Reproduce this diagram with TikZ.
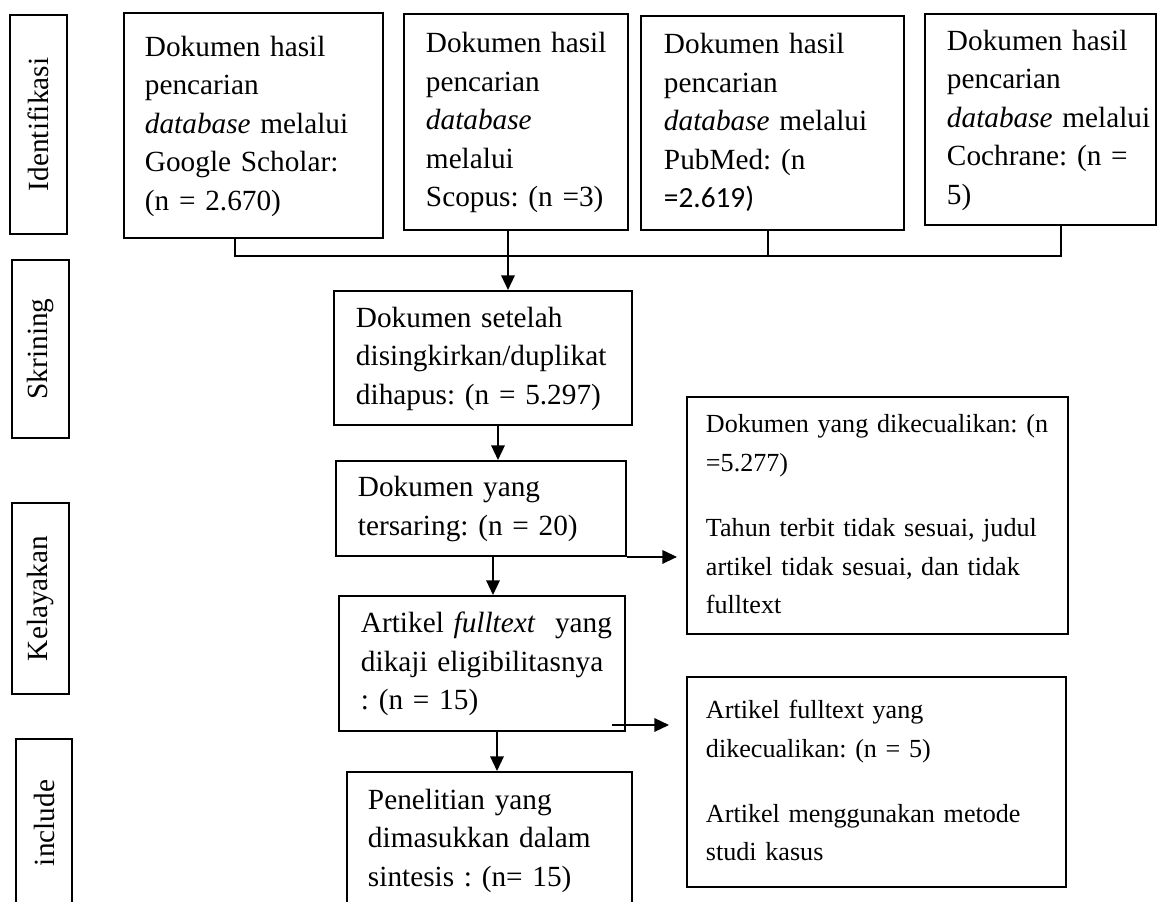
\documentclass[tikz,border=0pt]{standalone}
\usepackage{fontspec}
\setmainfont{Liberation Serif}
\newfontfamily\carl{Carlito}
\usetikzlibrary{arrows.meta,calc}
\newcommand\boxlines[1]{\begin{tabular}{@{}l@{}}#1\end{tabular}}
\begin{document}
\begin{tikzpicture}[x=0.41pt,y=-0.41pt,
  box/.style={draw, line width=0.8pt, anchor=north west, align=left, inner ysep=0pt,
    font=\fontsize{12}{15.8}\selectfont\frenchspacing},
  exbox/.style={box, font=\fontsize{10.7}{15.8}\selectfont\frenchspacing},
  side/.style={draw, line width=0.8pt, rotate=90, inner sep=0pt, minimum height=23.4pt,
    font=\fontsize{12}{14}\selectfont},
  link/.style={line width=0.5pt},
  arr/.style={line width=0.8pt, -{Triangle[length=6pt,width=5.5pt]}}]
\useasboundingbox (0,0) rectangle (1157,902);

% stage labels
\node[side, minimum width=89.8pt] (idf) at (38.5,124.5) {Identifikasi};
\node[side, minimum width=73pt] (skr) at (40.5,349) {Skrining};
\node[side, minimum width=78.3pt] (kel) at (40.5,598.5) {Kelayakan};
\node[side, minimum width=68.9pt, minimum height=23pt] (inc) at (44,823) {include};

% identification boxes
\node[box, text width=88.97pt, inner xsep=8.61pt, minimum height=92.25pt] (gs) at (123,12)
  {\boxlines{Dokumen hasil\\ pencarian\\ \textit{database} melalui\\ Google Scholar:\\ (n = 2.670)}};
\node[box, text width=73.8pt, inner xsep=9.02pt, minimum height=88.56pt] (sc) at (403,13)
  {\boxlines{Dokumen hasil\\ pencarian\\ \textit{database}\\ melalui\\ Scopus: (n =3)}};
\node[box, text width=88.97pt, inner xsep=9.43pt, minimum height=87.74pt] (pm) at (640,15)
  {\boxlines{Dokumen hasil\\ pencarian\\ \textit{database} melalui\\ PubMed: (n\\ {\carl =2.619)}}};
\node[box, text width=76.67pt, inner xsep=9.02pt, minimum height=86.51pt] (co) at (924,13)
  {\boxlines{Dokumen hasil\\ pencarian\\ \textit{database} melalui\\ Cochrane: (n =\\ 5)}};

% main column
\node[box, text width=104.14pt, inner xsep=9.02pt, minimum height=54.94pt] (set) at (333,290)
  {\boxlines{Dokumen setelah\\ disingkirkan/duplikat\\ dihapus: (n = 5.297)}};
\node[box, text width=100.86pt, inner xsep=9.02pt, minimum height=38.95pt] (ter) at (335,460)
  {\boxlines{Dokumen yang\\ tersaring: (n = 20)}};
\node[box, text width=99.22pt, inner xsep=9.02pt, minimum height=55.35pt] (art) at (338,595)
  {\boxlines{Artikel \textit{fulltext}\ \ yang\\ dikaji eligibilitasnya\\ : (n = 15)}};
\node[box, text width=99.63pt, inner xsep=8.61pt, minimum height=55.76pt] (pen) at (346,771)
  {\boxlines{Penelitian yang\\ dimasukkan dalam\\ sintesis : (n= 15)}};

% exclusion boxes
\node[exbox, text width=140.63pt, inner xsep=7.79pt, minimum height=97.17pt] (ex1) at (686,396)
  {\boxlines{Dokumen yang dikecualikan: (n\\ =5.277)\\[11pt] Tahun terbit tidak sesuai, judul\\ artikel tidak sesuai, dan tidak\\ fulltext}};
\node[exbox, text width=139.81pt, inner xsep=7.79pt, minimum height=86.1pt] (ex2) at (686,676)
  {\boxlines{Artikel fulltext yang\\ dikecualikan: (n = 5)\\[11pt] Artikel menggunakan metode\\ studi kasus}};

% connectors
\coordinate (j1) at (235,256);
\coordinate (j3) at (768,256);
\coordinate (j4) at (1061,256);
\draw[link] (gs.south -| j1) -- (j1) -- (j4) -- (co.south -| j4);
\draw[link] (pm.south -| j3) -- (j3);

\coordinate (a1) at (508,0);
\coordinate (a2) at (498,0);
\coordinate (a3) at (493,0);
\coordinate (a4) at (497,0);
\draw[arr] (sc.south -| a1) -- (set.north -| a1);
\draw[arr] (set.south -| a2) -- (ter.north -| a2);
\draw[arr] (ter.south -| a3) -- (art.north -| a3);
\draw[arr] (art.south -| a4) -- (pen.north -| a4);

\coordinate (t1) at (677,0);
\draw[arr] (ter.south east) -- (ter.south east -| t1);
\coordinate (s2) at (612,725);
\coordinate (t2) at (669,725);
\draw[arr] (s2) -- (t2);
\end{tikzpicture}
\end{document}
